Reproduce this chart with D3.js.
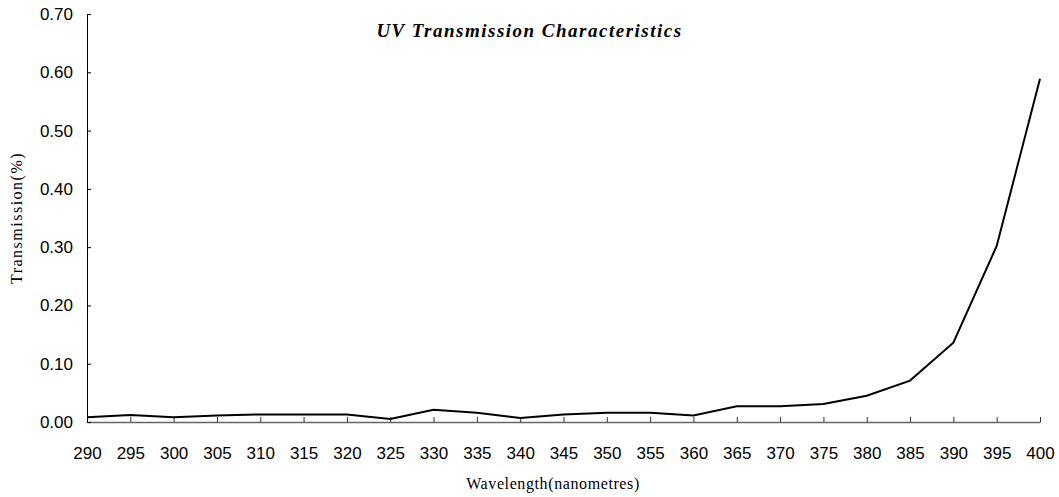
<!DOCTYPE html>
<html>
<head>
<meta charset="utf-8">
<script src="https://cdn.jsdelivr.net/npm/d3@7"></script>
<style>
  body { margin: 0; background: #fff; }
  .tick text { font-family: "Liberation Sans", Arial, sans-serif; font-size: 17px; fill: #000; }
</style>
</head>
<body>
<div id="chart"></div>
<script>
// Wavelength (nm) and transmission values
var wavelengths = [290, 295, 300, 305, 310, 315, 320, 325, 330, 335, 340, 345, 350, 355, 360, 365, 370, 375, 380, 385, 390, 395, 400];
var transmission = [0.008, 0.012, 0.008, 0.011, 0.013, 0.013, 0.013, 0.005, 0.021, 0.016, 0.007, 0.013, 0.016, 0.016, 0.011, 0.027, 0.027, 0.031, 0.045, 0.071, 0.136, 0.302, 0.589];
var yTicks = [0, 0.1, 0.2, 0.3, 0.4, 0.5, 0.6, 0.7];

var svgWidth = 1059;
var svgHeight = 497;

var margin = { top: 14, bottom: 75, left: 87, right: 19 };
var width = svgWidth - margin.left - margin.right;
var height = svgHeight - margin.top - margin.bottom;

var svg = d3.select("#chart")
    .append("svg")
    .attr("width", svgWidth)
    .attr("height", svgHeight);

var chartGroup = svg.append("g")
    .attr("transform", `translate(${margin.left}, ${margin.top})`);

var data = wavelengths.map(function (w, i) {
    return { wl: w, t: transmission[i] };
});

var xScale = d3.scaleLinear()
    .domain([290, 400])
    .range([0, width]);
var yScale = d3.scaleLinear()
    .domain([0, 0.7])
    .range([height, 0]);

// x axis, ticks pointing into the plot
var bottomAxis = d3.axisBottom(xScale)
    .tickValues(wavelengths)
    .tickFormat(d3.format("d"))
    .tickSizeInner(-5)
    .tickSizeOuter(0)
    .tickPadding(25);
var xAxisG = chartGroup.append("g")
    .attr("transform", `translate(0, ${height})`)
    .call(bottomAxis);
xAxisG.select(".domain").attr("stroke", "#666").attr("stroke-width", 1.5);
xAxisG.selectAll(".tick line").attr("stroke", "#333");

// y axis
var leftAxis = d3.axisLeft(yScale)
    .tickValues(yTicks)
    .tickFormat(d3.format(".2f"))
    .tickSizeInner(-4)
    .tickSizeOuter(0)
    .tickPadding(14);
var yAxisG = chartGroup.append("g")
    .call(leftAxis);
yAxisG.select(".domain").attr("stroke", "#000");

// the transmission line
var line = d3.line()
    .x(d => xScale(d.wl))
    .y(d => yScale(d.t));

chartGroup.append("path")
    .datum(data)
    .attr("fill", "none")
    .attr("stroke", "#000")
    .attr("stroke-width", 2)
    .attr("d", line);

// title and axis labels
svg.append("text")
    .attr("x", svgWidth / 2)
    .attr("y", 37)
    .attr("text-anchor", "middle")
    .style("font-family", "'Liberation Serif', 'Times New Roman', serif")
    .style("font-size", "19px")
    .style("letter-spacing", "1.5px")
    .style("font-weight", "bold")
    .style("font-style", "italic")
    .text("UV Transmission Characteristics");

svg.append("text")
    .attr("transform", `translate(22, ${margin.top + height / 2}) rotate(-90)`)
    .attr("text-anchor", "middle")
    .style("font-family", "'Liberation Serif', 'Times New Roman', serif")
    .style("font-size", "16px")
    .style("letter-spacing", "1.5px")
    .text("Transmission(%)");

svg.append("text")
    .attr("x", 553)
    .attr("y", 489)
    .attr("text-anchor", "middle")
    .style("font-family", "'Liberation Serif', 'Times New Roman', serif")
    .style("font-size", "16px")
    .style("letter-spacing", "0.6px")
    .text("Wavelength(nanometres)");
</script>
</body>
</html>
